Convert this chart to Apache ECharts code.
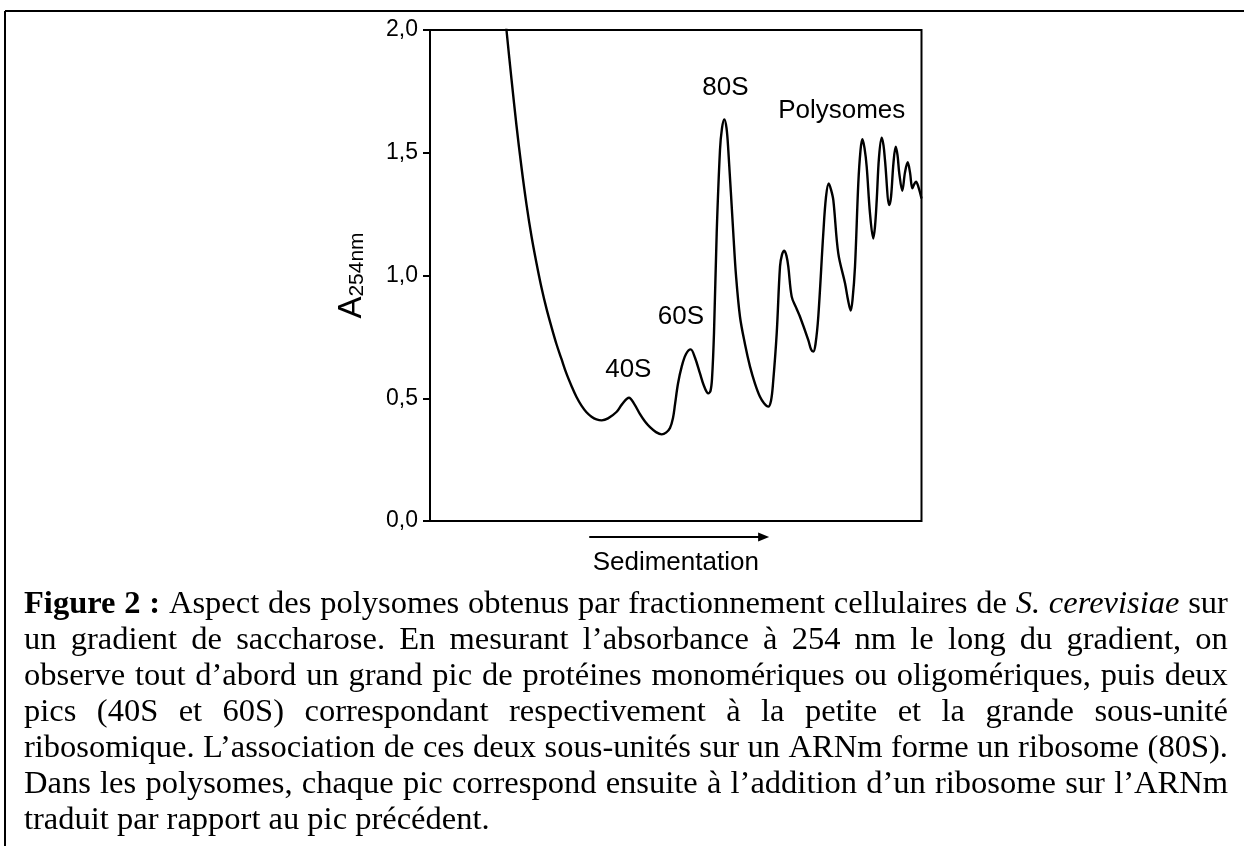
<!DOCTYPE html>
<html>
<head>
<meta charset="utf-8">
<script src="https://cdn.jsdelivr.net/npm/echarts@6/dist/echarts.min.js"></script>
<style>
  html, body { margin: 0; padding: 0; background: #fff; }
  #chart { position: absolute; left: 0; top: 0; width: 1244px; height: 846px; }
  #caption { position: absolute; left: 24px; top: 584px; width: 1204px;
    font-family: "Liberation Serif", "Times New Roman", serif; font-size: 32.5px;
    line-height: 36px; color: #000; }
  .jl { display: flex; justify-content: space-between; white-space: nowrap; }
  .ll { white-space: nowrap; }
</style>
</head>
<body>
<div id="chart"></div>
<div id="caption"></div>
<script>
// ---- data (position along gradient, % of run; absorbance at 254 nm) ----
const positions = [14.55, 15.56, 16.58, 17.60, 18.62, 19.63, 20.65, 21.67, 22.69, 23.70,
  24.72, 25.74, 26.75, 27.77, 28.79, 29.81, 30.82, 31.84, 32.86, 33.88,
  34.93, 36.22,
  37.99, 39.06, 40.49, 41.51, 42.73, 43.74, 44.76, 45.98, 47.14, 48.02,
  48.83, 49.44, 49.85, 50.46, 51.21, 52.09, 53.04, 53.92, 54.93, 55.75,
  56.62, 57.07, 57.38, 57.78, 58.33, 59.00, 59.41, 59.88, 60.33, 60.69,
  61.71, 62.26, 63.07, 64.09, 65.11, 66.12, 67.14, 67.96, 68.83, 69.38,
  69.79, 70.54, 71.21, 71.62, 72.09, 72.53, 72.90, 73.59, 74.47, 75.28,
  76.97, 77.52, 77.99, 78.43, 79.00, 80.02, 80.57, 81.12, 81.59, 82.06,
  83.07, 84.44, 85.05, 85.60, 85.96, 86.47, 87.14, 87.59, 87.96, 88.40,
  88.85, 89.52, 90.19, 90.54, 90.89, 91.35, 91.90, 92.27, 92.57, 93.45,
  93.80, 94.30, 94.75, 95.12, 95.48, 96.09, 96.64, 97.19, 97.66, 98.13,
  98.47, 98.88, 99.35, 100.00];
const absorbance = [2.21, 2.00, 1.80, 1.61, 1.44, 1.29, 1.16, 1.05, 0.95, 0.865,
  0.79, 0.72, 0.66, 0.60, 0.55, 0.505, 0.47, 0.443, 0.425, 0.414,
  0.41, 0.418,
  0.445, 0.475, 0.502, 0.478, 0.435, 0.405, 0.382, 0.362, 0.353, 0.36,
  0.379, 0.42, 0.475, 0.56, 0.629, 0.68, 0.699, 0.665, 0.601, 0.55,
  0.52, 0.53, 0.58, 0.765, 1.172, 1.511, 1.60, 1.636, 1.60, 1.511,
  1.172, 1.00, 0.832, 0.72, 0.629, 0.56, 0.506, 0.48, 0.466, 0.49,
  0.56, 0.764, 1.036, 1.085, 1.101, 1.08, 1.036, 0.914, 0.87, 0.832,
  0.737, 0.70, 0.69, 0.72, 0.832, 1.172, 1.32, 1.375, 1.35, 1.307,
  1.09, 0.968, 0.90, 0.857, 0.90, 1.036, 1.375, 1.51, 1.555, 1.52,
  1.443, 1.253, 1.151, 1.20, 1.307, 1.48, 1.561, 1.53, 1.47, 1.287,
  1.32, 1.46, 1.525, 1.49, 1.416, 1.345, 1.42, 1.461, 1.42, 1.355,
  1.37, 1.382, 1.362, 1.314];

const peakLabels = ['40S', '60S', '80S', 'Polysomes'];
const peakLabelX = [40.35, 51.05, 60.10, 83.77];
const peakLabelY = [0.617, 0.830, 1.766, 1.672];

const yTickValues = [0, 0.5, 1.0, 1.5, 2.0];
const yTickLabels = ['0,0', '0,5', '1,0', '1,5', '2,0'];

const xAxisName = 'Sedimentation';
const arrowFrom = 32.4, arrowTo = 69.0;

const captionLines = [
  [['b', 'Figure'], ['b', '2'], ['b', ':'], 'Aspect', 'des', 'polysomes', 'obtenus', 'par',
   'fractionnement', 'cellulaires', 'de', ['i', 'S.'], ['i', 'cerevisiae'], 'sur'],
  'un gradient de saccharose. En mesurant l’absorbance à 254 nm le long du gradient, on',
  'observe tout d’abord un grand pic de protéines monomériques ou oligomériques, puis deux',
  'pics (40S et 60S) correspondant respectivement à la petite et la grande sous-unité',
  'ribosomique. L’association de ces deux sous-unités sur un ARNm forme un ribosome (80S).',
  'Dans les polysomes, chaque pic correspond ensuite à l’addition d’un ribosome sur l’ARNm',
  'traduit par rapport au pic précédent.'
];

// ---- caption ----
const cap = document.getElementById('caption');
captionLines.forEach((line, idx) => {
  const div = document.createElement('div');
  const last = idx === captionLines.length - 1;
  if (last) {
    div.className = 'll';
    div.textContent = line;
  } else {
    div.className = 'jl';
    const words = Array.isArray(line) ? line : line.split(' ');
    words.forEach(w => {
      const s = document.createElement('span');
      if (Array.isArray(w)) {
        s.textContent = w[1];
        if (w[0] === 'b') s.style.fontWeight = 'bold';
        if (w[0] === 'i') s.style.fontStyle = 'italic';
      } else {
        s.textContent = w;
      }
      div.appendChild(s);
    });
  }
  cap.appendChild(div);
});

// ---- chart ----
const chart = echarts.init(document.getElementById('chart'), null, { renderer: 'canvas' });
const FONT = 'Liberation Sans, Arial, Helvetica, sans-serif';

const option = {
  animation: false,
  backgroundColor: '#fff',
  textStyle: { fontFamily: FONT, color: '#000' },
  grid: { left: 430, right: 322.5, top: 30, bottom: 325, show: true,
          borderColor: '#000', borderWidth: 2, backgroundColor: 'transparent' },
  xAxis: {
    type: 'value', min: 0, max: 100,
    axisLine: { show: false }, axisTick: { show: false }, axisLabel: { show: false },
    splitLine: { show: false },
    name: xAxisName, nameLocation: 'middle', nameGap: 29,
    nameTextStyle: { fontSize: 26, fontFamily: FONT, color: '#000' }
  },
  yAxis: {
    type: 'value', min: 0, max: 2, interval: 0.5,
    axisLine: { show: true, lineStyle: { color: '#000', width: 2 } },
    axisTick: { show: true, length: 7, lineStyle: { color: '#000', width: 2 } },
    axisLabel: { margin: 12, fontSize: 23, fontFamily: FONT, color: '#000',
      formatter: v => yTickLabels[yTickValues.indexOf(v)] },
    splitLine: { show: false },
    name: '{a|A}{s|254nm}', nameLocation: 'middle', nameRotate: 90, nameGap: 62,
    nameTextStyle: {
      rich: {
        a: { fontSize: 33, fontFamily: FONT, color: '#000', lineHeight: 36, verticalAlign: 'bottom' },
        s: { fontSize: 21, fontFamily: FONT, color: '#000', lineHeight: 24, verticalAlign: 'bottom' }
      }
    }
  },
  series: [
    {
      type: 'line', data: positions.map((x, i) => [x, absorbance[i]]),
      showSymbol: false, smooth: 0.35, clip: true,
      lineStyle: { color: '#000', width: 2.4 }, silent: true
    },
    {
      type: 'scatter', symbolSize: 0, silent: true, itemStyle: { opacity: 1, color: '#000' },
      data: peakLabels.map((n, i) => ({ name: n, value: [peakLabelX[i], peakLabelY[i]] })),
      label: { show: true, position: 'inside', formatter: p => p.name, opacity: 1,
        textBorderWidth: 0, fontSize: 26, fontFamily: FONT, color: '#000' }
    }
  ]
};
chart.setOption(option);

// border of figure frame + sedimentation arrow
const p0 = chart.convertToPixel({ xAxisIndex: 0, yAxisIndex: 0 }, [arrowFrom, 0]);
const p1 = chart.convertToPixel({ xAxisIndex: 0, yAxisIndex: 0 }, [arrowTo, 0]);
const ay = p0[1] + 16;
chart.setOption({
  graphic: [
    { type: 'line', shape: { x1: 5, y1: 11, x2: 1244, y2: 11 }, style: { stroke: '#000', lineWidth: 2 } },
    { type: 'line', shape: { x1: 5, y1: 11, x2: 5, y2: 846 }, style: { stroke: '#000', lineWidth: 2 } },
    { type: 'line', shape: { x1: p0[0], y1: ay, x2: p1[0] - 8, y2: ay }, style: { stroke: '#000', lineWidth: 2 } },
    { type: 'polygon', shape: { points: [[p1[0], ay], [p1[0] - 11, ay - 4.5], [p1[0] - 11, ay + 4.5]] }, style: { fill: '#000' } }
  ]
});
</script>
</body>
</html>
